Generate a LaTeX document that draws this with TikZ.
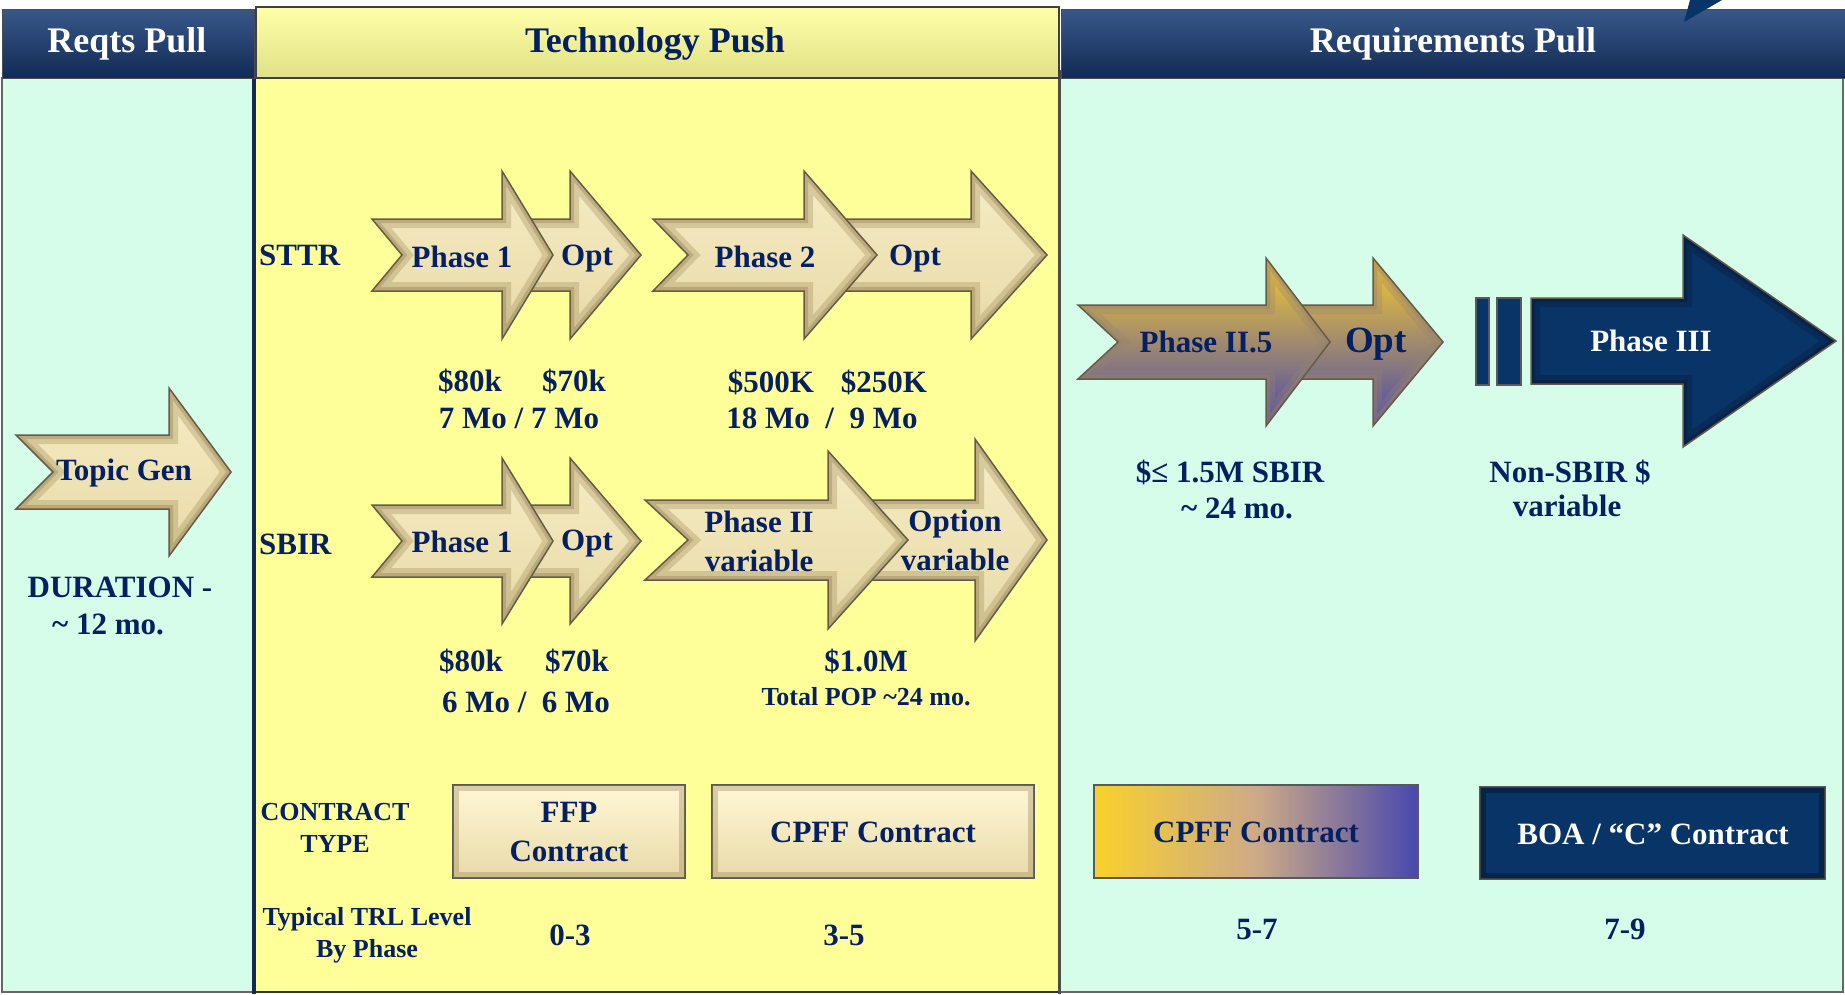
\documentclass[tikz,border=0pt]{standalone}
\usepackage{fontspec}
\setmainfont{Liberation Serif}
\definecolor{navytxt}{RGB}{4,32,98}
\definecolor{mint}{RGB}{214,252,234}
\definecolor{yel}{RGB}{255,255,153}
\definecolor{navyA}{RGB}{30,58,104}
\definecolor{navyB}{RGB}{18,42,84}
\definecolor{navyC}{RGB}{56,88,138}
\definecolor{boxnavy}{RGB}{8,52,104}
\definecolor{creamA}{RGB}{246,236,196}
\definecolor{creamB}{RGB}{255,247,214}
\definecolor{creamC}{RGB}{232,218,168}
\definecolor{bevel}{RGB}{150,130,80}
\definecolor{goldbevel}{RGB}{150,130,110}
\definecolor{navybevel}{RGB}{10,25,50}
\definecolor{edge}{RGB}{100,92,72}
\definecolor{goldA}{RGB}{248,204,48}
\definecolor{tanA}{RGB}{205,170,135}
\definecolor{blueA}{RGB}{72,72,172}
\newcommand\fA{\fontsize{31}{39}\selectfont\bfseries}
\newcommand\fH{\fontsize{36}{40}\selectfont\bfseries}
\newcommand\fS{\fontsize{26}{32}\selectfont\bfseries}
\newcommand\fB{\fontsize{37}{40}\selectfont\bfseries}
\newcommand\chevp[7]{(#1,{#5-#6}) -- (#3,{#5-#6}) -- (#3,{#5-#7}) -- (#4,#5) -- (#3,{#5+#7}) -- (#3,{#5+#6}) -- (#1,{#5+#6}) -- (#2,#5) -- cycle}
% #1 fill style, #2 bevel colour, #3..#9 geometry
\newcommand\bevarrow[9]{%
  \begin{scope}
    \clip \chevp{#3}{#4}{#5}{#6}{#7}{#8}{#9};
    \path[#1] \chevp{#3}{#4}{#5}{#6}{#7}{#8}{#9};
    \draw[#2, opacity=0.3, line width=18pt, line join=miter] \chevp{#3}{#4}{#5}{#6}{#7}{#8}{#9};
    \draw[#2, opacity=0.4, line width=8pt, line join=miter] \chevp{#3}{#4}{#5}{#6}{#7}{#8}{#9};
  \end{scope}
  \draw[edge, line width=1.5pt, line join=miter] \chevp{#3}{#4}{#5}{#6}{#7}{#8}{#9};}
\begin{document}
\begin{tikzpicture}[x=1pt,y=-1pt,
  cream/.style={top color=creamA, middle color=creamB, bottom color=creamC},
  goldgrad/.style={top color=goldA, middle color=tanA, bottom color=blueA},
  navyfill/.style={fill=boxnavy},
  navyshape/.style={fill=boxnavy, draw=gray!70!black, line width=1.5pt},
  hdrnavy/.style={top color=navyC, middle color=navyA, bottom color=navyB, draw=black!70, line width=1pt},
  lbl/.style={inner sep=0pt, text=navytxt, align=center},
  wlbl/.style={inner sep=0pt, text=white, align=center},
  cbox/.style={top color=creamB, middle color=creamB, bottom color=creamC, draw=black!65, line width=2pt}]
\useasboundingbox (0,0) rectangle (1845,994);
\fill[white] (0,0) rectangle (1845,994);
% panels
\path[fill=mint, draw=black!60, line width=1.5pt] (2,78) rectangle (254,992);
\path[fill=yel] (254,78) rectangle (1059,992);
\path[fill=mint, draw=black!60, line width=1.5pt] (1059,78) rectangle (1843,992);
\draw[black!80, line width=1.5pt] (254,78) rectangle (1059,992);
\draw[navyB, line width=4pt] (254,70) -- (254,994);
\draw[black!70, line width=3pt] (1059,70) -- (1059,994);
% headers
\path[top color=yel!85!white, middle color=yel, bottom color=yel!88!black, draw=black!75, line width=2pt] (256,7) rectangle (1059,78);
\path[hdrnavy] (2,9) rectangle (254,78);
\path[hdrnavy] (1061,9) rectangle (1845,78);
\fill[boxnavy] (1690,0) -- (1722,0) -- (1684,22) -- cycle;
\node[wlbl, font=\fH] (hReq1) at (127,44) {Reqts Pull};
\node[lbl, font=\fH] (hTech) at (655,44) {Technology Push};
\node[wlbl, font=\fH] (hReq2) at (1453,44) {Requirements Pull};
% left panel
\bevarrow{cream}{bevel}{16}{53}{169}{231}{472}{37}{84}
\node[lbl, font=\fA] (topic) at (124,473) {Topic Gen};
\node[lbl, font=\fA] (dur1) at (120,587) {DURATION -};
\node[lbl, font=\fA] (dur2) at (108,624) {\textasciitilde{} 12 mo.};
% STTR row
\node[lbl, font=\fA, anchor=west] (sttr) at (259,255) {STTR};
\bevarrow{cream}{bevel}{505}{505}{570}{641}{255}{36}{84}
\bevarrow{cream}{bevel}{372}{402}{502}{553}{255}{36}{84}
\bevarrow{cream}{bevel}{810}{810}{971}{1047}{255}{36}{84}
\bevarrow{cream}{bevel}{653}{688}{804}{877}{255}{36}{84}
\node[lbl, font=\fA] (s1) at (462,257) {Phase 1};
\node[lbl, font=\fA] (s1o) at (587,259) {Opt};
\node[lbl, font=\fA] (s2) at (765,257) {Phase 2};
\node[lbl, font=\fA] (s2o) at (915,259) {Opt};
\node[lbl, font=\fA] (c1) at (470,381) {\$80k};
\node[lbl, font=\fA] (c2) at (574,381) {\$70k};
\node[lbl, font=\fA] (c3) at (519,418) {7 Mo / 7 Mo};
\node[lbl, font=\fA] (c4) at (771,382) {\$500K};
\node[lbl, font=\fA] (c5) at (884,382) {\$250K};
\node[lbl, font=\fA] (c6) at (822,418) {18 Mo\ \ /\ \ 9 Mo};
% SBIR row
\node[lbl, font=\fA, anchor=west] (sbir) at (259,544) {SBIR};
\bevarrow{cream}{bevel}{505}{505}{570}{641}{541}{36}{83}
\bevarrow{cream}{bevel}{372}{402}{502}{553}{541}{36}{83}
\bevarrow{cream}{bevel}{835}{835}{975}{1047}{540}{40}{101}
\bevarrow{cream}{bevel}{645}{688}{828}{908}{540}{40}{89}
\node[lbl, font=\fA] (b1) at (462,542) {Phase 1};
\node[lbl, font=\fA] (b1o) at (587,544) {Opt};
\node[lbl, font=\fA] (b2) at (759,541) {Phase II\\variable};
\node[lbl, font=\fA] (b2o) at (955,540) {Option\\variable};
\node[lbl, font=\fA] (d1) at (471,661) {\$80k};
\node[lbl, font=\fA] (d2) at (577,661) {\$70k};
\node[lbl, font=\fA] (d3) at (526,702) {6 Mo /\ \ 6 Mo};
\node[lbl, font=\fA] (d4) at (866,661) {\$1.0M};
\node[lbl, font=\fS] (d5) at (866,697) {Total POP \textasciitilde24 mo.};
% contract row
\node[lbl, font=\fS] (ct) at (335,828) {CONTRACT\\TYPE};
\path[cbox] (453,785) rectangle (685,878);
\draw[bevel, opacity=0.35, line width=6pt] (456,788) rectangle (682,875);
\node[lbl, font=\fA] (ffp) at (569,832) {FFP\\Contract};
\path[cbox] (712,785) rectangle (1034,878);
\draw[bevel, opacity=0.35, line width=6pt] (715,788) rectangle (1031,875);
\node[lbl, font=\fA] (cpff1) at (873,832) {CPFF Contract};
\node[lbl, font=\fS] (trl) at (367,935) {Typical TRL Level\\By Phase};
\node[lbl, font=\fA] (t1) at (570,935) {0-3};
\node[lbl, font=\fA] (t2) at (844,935) {3-5};
% right panel
\bevarrow{goldgrad}{goldbevel}{1270}{1270}{1373}{1443}{342}{37}{84}
\bevarrow{goldgrad}{goldbevel}{1078}{1118}{1266}{1330}{342}{37}{84}
\node[lbl, font=\fA] (p25) at (1206,342) {Phase II.5};
\node[lbl, font=\fB] (p25o) at (1376,344) {Opt};
\path[navyshape] (1476,298) rectangle (1489,385);
\path[navyshape] (1497,298) rectangle (1521,385);
\bevarrow{navyfill}{navybevel}{1531}{1531}{1683}{1836}{341}{43}{106}
\node[wlbl, font=\fA] (p3) at (1651,341) {Phase III};
\node[lbl, font=\fA] (r1) at (1230,472) {\$≤ 1.5M SBIR};
\node[lbl, font=\fA] (r2) at (1237,508) {\textasciitilde{} 24 mo.};
\node[lbl, font=\fA] (r3) at (1570,472) {Non-SBIR \$};
\node[lbl, font=\fA] (r4) at (1567,506) {variable};
\path[left color=goldA!90!yellow, right color=blueA, middle color=tanA, draw=black!65, line width=2pt] (1094,785) rectangle (1418,878);
\node[lbl, font=\fA] (cpff2) at (1256,832) {CPFF Contract};
\path[fill=boxnavy, draw=black!65, line width=2pt] (1480,787) rectangle (1825,879);
\draw[black, opacity=0.3, line width=6pt] (1483,790) rectangle (1822,876);
\node[wlbl, font=\fA] (boa) at (1653,834) {BOA / “C” Contract};
\node[lbl, font=\fA] (t3) at (1257,929) {5-7};
\node[lbl, font=\fA] (t4) at (1625,929) {7-9};
\end{tikzpicture}
\end{document}
